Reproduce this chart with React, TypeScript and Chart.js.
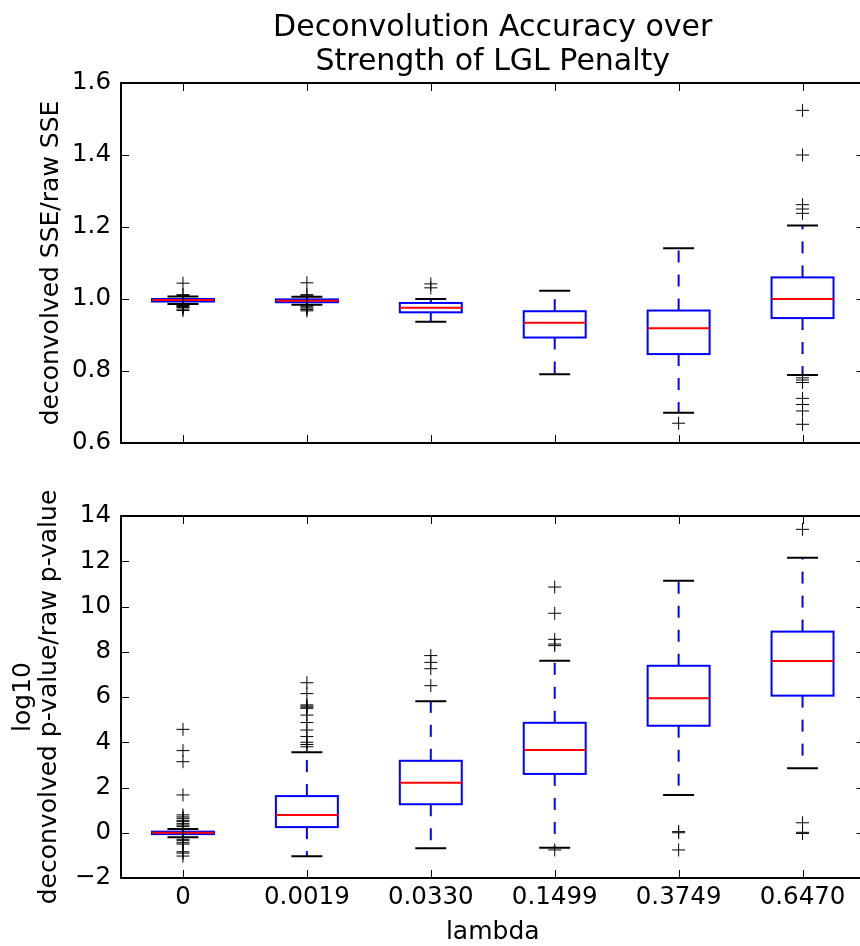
import React, { useEffect, useRef } from 'react';
import { Chart, registerables } from 'chart.js';

Chart.register(...registerables);

// ---------- data ----------
const categories = ['0', '0.0019', '0.0330', '0.1499', '0.3749', '0.6470'];

// top panel: deconvolved SSE / raw SSE
const sseQ1 = [0.993, 0.991, 0.963, 0.893, 0.847, 0.947];
const sseMedian = [0.997, 0.995, 0.976, 0.934, 0.919, 1.0];
const sseQ3 = [1.0, 0.999, 0.989, 0.966, 0.968, 1.06];
const sseWhiskerLow = [0.986, 0.984, 0.937, 0.791, 0.684, 0.789];
const sseWhiskerHigh = [1.007, 1.006, 1.0, 1.023, 1.141, 1.204];
const sseFliers = [
  [1.044, 1.012, 1.01, 0.982, 0.979, 0.976, 0.972, 0.968],
  [1.045, 1.012, 1.009, 0.981, 0.978, 0.975, 0.971, 0.967],
  [1.042, 1.031],
  [],
  [0.655],
  [1.524, 1.4, 1.262, 1.25, 1.238, 0.781, 0.775, 0.768, 0.724, 0.707, 0.689, 0.652],
];
const sseTicks = { min: 0.6, max: 1.6, step: 0.2 };

// bottom panel: log10 deconvolved p-value / raw p-value
const pvQ1 = [-0.06, 0.25, 1.26, 2.6, 4.73, 6.06];
const pvMedian = [0.0, 0.78, 2.21, 3.66, 5.94, 7.59];
const pvQ3 = [0.05, 1.62, 3.18, 4.86, 7.38, 8.89];
const pvWhiskerLow = [-0.2, -1.04, -0.69, -0.66, 1.67, 2.85];
const pvWhiskerHigh = [0.17, 3.56, 5.81, 7.6, 11.14, 12.16];
const pvFliers = [
  [4.57, 3.63, 3.14, 1.67, 0.79, 0.7, 0.64, 0.55, 0.49, 0.4, 0.34, 0.28, 0.19, -0.29, -0.35, -0.44, -0.5, -0.84, -0.9, -1.03],
  [6.63, 6.15, 5.65, 5.6, 5.55, 5.5, 5.2, 4.87, 4.54, 4.25, 4.0, 3.9, 3.8],
  [7.83, 7.53, 7.25, 6.5],
  [10.86, 9.7, 8.55, 8.34, 8.27, -0.76],
  [0.05, 0.0, -0.76],
  [13.41, 0.44, 0.02, -0.03],
];
const pvTicks = { min: -2, max: 14, step: 2 };

const titleLines = ['Deconvolution Accuracy over', 'Strength of LGL Penalty'];
const topYLabel = 'deconvolved SSE/raw SSE';
const bottomYLabel = ['log10', 'deconvolved p-value/raw p-value'];
const xLabel = 'lambda';

// ---------- styles ----------
const FONT = "'DejaVu Sans', sans-serif";
const BLUE = '#0000ff';
const RED = '#ff0000';
const BLACK = '#000000';

type Stats = { q1: number[]; med: number[]; q3: number[]; lo: number[]; hi: number[] };

function makeBoxPlugin(id: string, s: Stats) {
  return {
    id,
    beforeDatasetsDraw(chart: any) {
      const { ctx } = chart;
      const x = chart.scales.x;
      const y = chart.scales.y;
      const step = Math.abs(x.getPixelForValue(1) - x.getPixelForValue(0));
      const boxW = step * 0.5;
      const capW = step * 0.25;
      ctx.save();
      for (let i = 0; i < s.q1.length; i++) {
        const cx = x.getPixelForValue(i);
        const yq1 = y.getPixelForValue(s.q1[i]);
        const yq3 = y.getPixelForValue(s.q3[i]);
        const ymed = y.getPixelForValue(s.med[i]);
        const ylo = y.getPixelForValue(s.lo[i]);
        const yhi = y.getPixelForValue(s.hi[i]);
        // whiskers
        ctx.strokeStyle = BLUE;
        ctx.lineWidth = 2;
        ctx.setLineDash([12, 12]);
        ctx.beginPath();
        ctx.moveTo(cx, yq3);
        ctx.lineTo(cx, yhi);
        ctx.stroke();
        ctx.beginPath();
        ctx.moveTo(cx, yq1);
        ctx.lineTo(cx, ylo);
        ctx.stroke();
        ctx.setLineDash([]);
        // caps
        ctx.strokeStyle = BLACK;
        ctx.beginPath();
        ctx.moveTo(cx - capW / 2, yhi);
        ctx.lineTo(cx + capW / 2, yhi);
        ctx.moveTo(cx - capW / 2, ylo);
        ctx.lineTo(cx + capW / 2, ylo);
        ctx.stroke();
        // box
        ctx.strokeStyle = BLUE;
        ctx.strokeRect(cx - boxW / 2, yq3, boxW, yq1 - yq3);
        // median
        ctx.strokeStyle = RED;
        ctx.beginPath();
        ctx.moveTo(cx - boxW / 2, ymed);
        ctx.lineTo(cx + boxW / 2, ymed);
        ctx.stroke();
      }
      ctx.restore();
    },
  };
}

const framePlugin = {
  id: 'frame',
  afterDraw(chart: any) {
    const { ctx, chartArea } = chart;
    const { left, right, top, bottom } = chartArea;
    const x = chart.scales.x;
    const y = chart.scales.y;
    const tl = 8;
    ctx.save();
    ctx.strokeStyle = BLACK;
    ctx.lineWidth = 1;
    ctx.beginPath();
    y.ticks.forEach((t: any) => {
      const py = Math.round(y.getPixelForValue(t.value)) + 0.5;
      ctx.moveTo(left, py);
      ctx.lineTo(left + tl, py);
      ctx.moveTo(right, py);
      ctx.lineTo(right - tl, py);
    });
    categories.forEach((_, i) => {
      const px = Math.round(x.getPixelForValue(i)) + 0.5;
      ctx.moveTo(px, bottom);
      ctx.lineTo(px, bottom - tl);
      ctx.moveTo(px, top);
      ctx.lineTo(px, top + tl);
    });
    ctx.stroke();
    ctx.lineWidth = 2;
    ctx.strokeRect(left, top, right - left, bottom - top);
    ctx.restore();
  },
};

function flierData(fl: number[][]) {
  return fl.flatMap((arr, i) => arr.map((v) => ({ x: categories[i], y: v })));
}

function fmtTop(v: number) {
  return Number(v).toFixed(1);
}
function fmtBottom(v: number) {
  const r = Math.round(Number(v));
  return r < 0 ? '\u2212' + Math.abs(r) : String(r);
}

const W = 872;
const H_TOP = 470;
const H_BOTTOM = 476;

export default function App() {
  const topRef = useRef<HTMLCanvasElement | null>(null);
  const botRef = useRef<HTMLCanvasElement | null>(null);

  useEffect(() => {
    Chart.defaults.font.family = FONT;
    Chart.defaults.color = BLACK;

    const commonDataset = {
      type: 'scatter' as const,
      pointStyle: 'cross',
      pointRadius: 6.5,
      pointHoverRadius: 6.5,
      borderColor: BLACK,
      pointBorderColor: BLACK,
      backgroundColor: BLACK,
      borderWidth: 1,
      pointBorderWidth: 1,
      showLine: false,
    };

    const topChart = new Chart(topRef.current as HTMLCanvasElement, {
      type: 'scatter',
      data: {
        labels: categories,
        datasets: [{ ...commonDataset, label: 'fliers', data: flierData(sseFliers) } as any],
      },
      options: {
        animation: false,
        responsive: false,
        maintainAspectRatio: false,
        devicePixelRatio: 1,
        events: [],
        layout: { padding: { left: 0, right: W - 866, top: 0, bottom: H_TOP - 443 } },
        plugins: {
          legend: { display: false },
          tooltip: { enabled: false },
          title: {
            display: true,
            fullSize: false,
            text: titleLines,
            color: BLACK,
            font: { family: FONT, size: 30, weight: 'normal', lineHeight: 34 / 30 },
            padding: { top: 11, bottom: 4 },
          },
        },
        scales: {
          x: {
            type: 'category',
            labels: categories,
            offset: true,
            display: false,
          },
          y: {
            type: 'linear',
            min: sseTicks.min,
            max: sseTicks.max,
            grid: { display: false, drawTicks: false },
            border: { display: false },
            ticks: {
              stepSize: sseTicks.step,
              padding: 10,
              color: BLACK,
              font: { family: FONT, size: 24.5 },
              callback: (v: any) => fmtTop(v),
            },
            title: {
              display: true,
              text: topYLabel,
              color: BLACK,
              font: { family: FONT, size: 25, lineHeight: 1 },
              padding: { top: 39, bottom: 0 },
            },
            afterFit: (s: any) => {
              s.width = 121;
            },
          },
        },
      } as any,
      plugins: [
        makeBoxPlugin('boxesTop', {
          q1: sseQ1,
          med: sseMedian,
          q3: sseQ3,
          lo: sseWhiskerLow,
          hi: sseWhiskerHigh,
        }),
        framePlugin,
      ],
    });

    const botChart = new Chart(botRef.current as HTMLCanvasElement, {
      type: 'scatter',
      data: {
        labels: categories,
        datasets: [{ ...commonDataset, label: 'fliers', data: flierData(pvFliers) } as any],
      },
      options: {
        animation: false,
        responsive: false,
        maintainAspectRatio: false,
        devicePixelRatio: 1,
        events: [],
        layout: { padding: { left: 0, right: W - 866, top: 46, bottom: 0 } },
        plugins: {
          legend: { display: false },
          tooltip: { enabled: false },
          title: { display: false },
        },
        scales: {
          x: {
            type: 'category',
            labels: categories,
            offset: true,
            grid: { display: false, drawTicks: false },
            border: { display: false },
            ticks: {
              padding: 5,
              color: BLACK,
              maxRotation: 0,
              autoSkip: false,
              font: { family: FONT, size: 24.5 },
            },
            title: {
              display: true,
              text: xLabel,
              color: BLACK,
              font: { family: FONT, size: 25, lineHeight: 1 },
              padding: { top: 0, bottom: 1 },
            },
            afterFit: (s: any) => {
              s.height = H_BOTTOM - 408;
            },
          },
          y: {
            type: 'linear',
            min: pvTicks.min,
            max: pvTicks.max,
            grid: { display: false, drawTicks: false },
            border: { display: false },
            ticks: {
              stepSize: pvTicks.step,
              padding: 10,
              color: BLACK,
              font: { family: FONT, size: 24.5 },
              callback: (v: any) => fmtBottom(v),
            },
            title: {
              display: true,
              text: bottomYLabel,
              color: BLACK,
              font: { family: FONT, size: 25, lineHeight: 1.04 },
              padding: { top: 10, bottom: 0 },
            },
            afterFit: (s: any) => {
              s.width = 121;
            },
          },
        },
      } as any,
      plugins: [
        makeBoxPlugin('boxesBottom', {
          q1: pvQ1,
          med: pvMedian,
          q3: pvQ3,
          lo: pvWhiskerLow,
          hi: pvWhiskerHigh,
        }),
        framePlugin,
      ],
    });

    return () => {
      topChart.destroy();
      botChart.destroy();
    };
  }, []);

  return (
    <div
      style={{
        position: 'absolute',
        left: 0,
        top: 0,
        width: 860,
        height: 946,
        overflow: 'hidden',
        background: '#fff',
      }}
    >
      <canvas
        ref={topRef}
        width={W}
        height={H_TOP}
        style={{ position: 'absolute', left: 0, top: 0, width: W, height: H_TOP }}
      />
      <canvas
        ref={botRef}
        width={W}
        height={H_BOTTOM}
        style={{ position: 'absolute', left: 0, top: H_TOP, width: W, height: H_BOTTOM }}
      />
    </div>
  );
}
